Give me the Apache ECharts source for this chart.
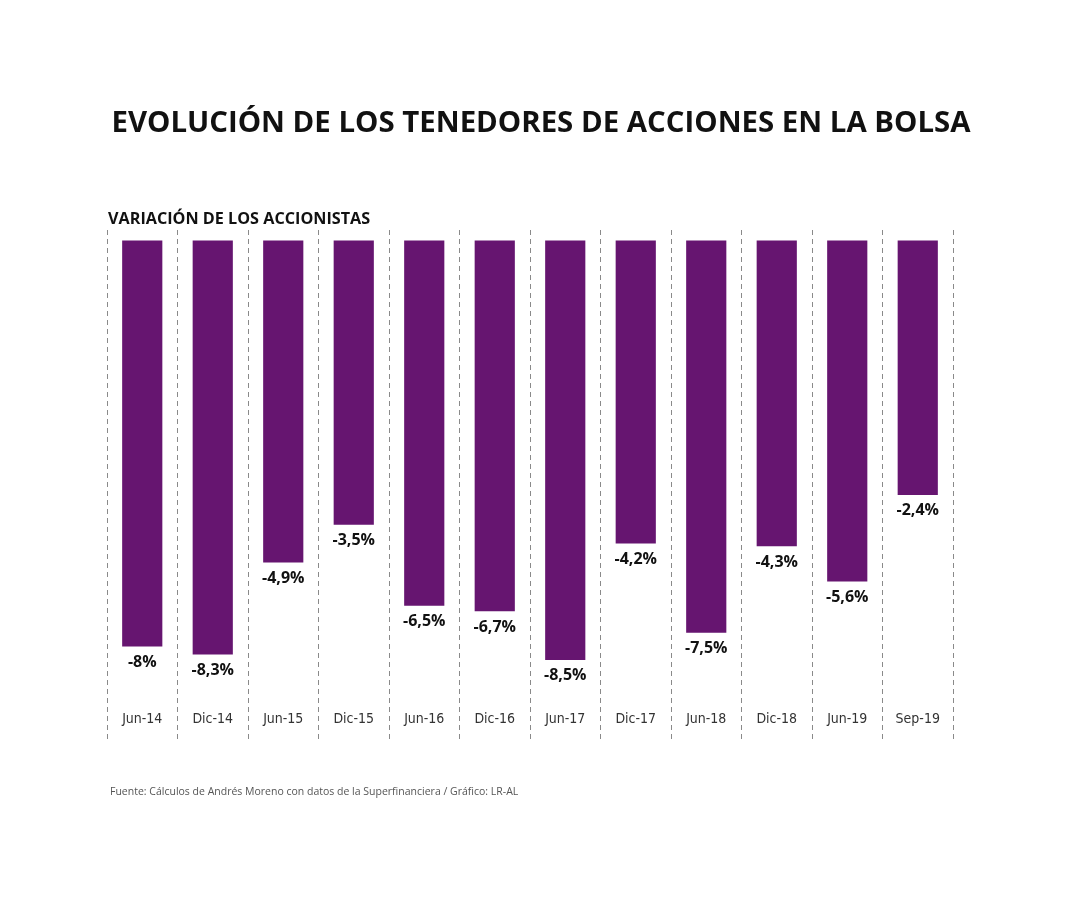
<!DOCTYPE html>
<html>
<head>
<meta charset="utf-8">
<script src="https://cdn.jsdelivr.net/npm/echarts@6/dist/echarts.min.js"></script>
<style>html,body{margin:0;padding:0;background:#fff;}#c{width:1080px;height:900px;}</style>
</head>
<body>
<div id="c"></div>
<script>
var categories = ['Jun-14','Dic-14','Jun-15','Dic-15','Jun-16','Dic-16','Jun-17','Dic-17','Jun-18','Dic-18','Jun-19','Sep-19'];
var values = [-8, -8.3, -4.9, -3.5, -6.5, -6.7, -8.5, -4.2, -7.5, -4.3, -5.6, -2.4];
var BASE = 7;

var chart = echarts.init(document.getElementById('c'));
function fmt(v){ return String(v).replace('.', ',') + '%'; }
chart.setOption({
  backgroundColor: '#fff',
  animation: false,
  title: [
    { text: 'EVOLUCIÓN DE LOS TENEDORES DE ACCIONES EN LA BOLSA', left: 536, top: 104, textAlign: 'center',
      textStyle: { fontFamily: 'Open Sans', fontWeight: 700, fontSize: 29.4, color: '#111' } },
    { text: 'VARIACIÓN DE LOS ACCIONISTAS', left: 103, top: 206,
      textStyle: { fontFamily: 'Open Sans', fontWeight: 700, fontSize: 16.2, color: '#111' } },
    { text: 'Fuente: Cálculos de Andrés Moreno con datos de la Superfinanciera / Gráfico: LR-AL', left: 105, top: 782,
      textStyle: { fontFamily: 'Open Sans', fontWeight: 400, fontSize: 10.5, color: '#555' } }
  ],
  grid: { left: 107, right: 127, top: 230, height: 510 },
  xAxis: {
    type: 'category', data: categories,
    axisLine: { show: false }, axisTick: { show: false },
    axisLabel: { inside: true, margin: 14, color: '#333', fontSize: 14, fontFamily: "'DejaVu Sans Condensed', 'Liberation Sans Narrow', Roboto, sans-serif", fontWeight: 300 },
    splitLine: { show: true, lineStyle: { color: '#8a8a8a', type: [5, 4], width: 1 } }
  },
  yAxis: { type: 'value', min: -11.46, max: 7.39, show: false, splitLine: { show: false } },
  series: [{
    type: 'custom',
    data: values.map(function(v, i){ return [i, v]; }),
    renderItem: function(params, api){
      var i = api.value(0), v = api.value(1);
      var top = api.coord([i, BASE]);
      var bot = api.coord([i, v]);
      var w = api.size([1, 0])[0] * 0.57;
      return {
        type: 'group',
        children: [
          { type: 'rect', shape: { x: top[0] - w/2, y: top[1], width: w, height: bot[1] - top[1] },
            style: { fill: '#661570' } },
          { type: 'text', x: bot[0], y: bot[1] + 16,
            style: { text: fmt(v), textAlign: 'center', textVerticalAlign: 'middle',
              font: 'bold 16px "Open Sans"', fill: '#111' } }
        ]
      };
    }
  }]
});
</script>
</body>
</html>
